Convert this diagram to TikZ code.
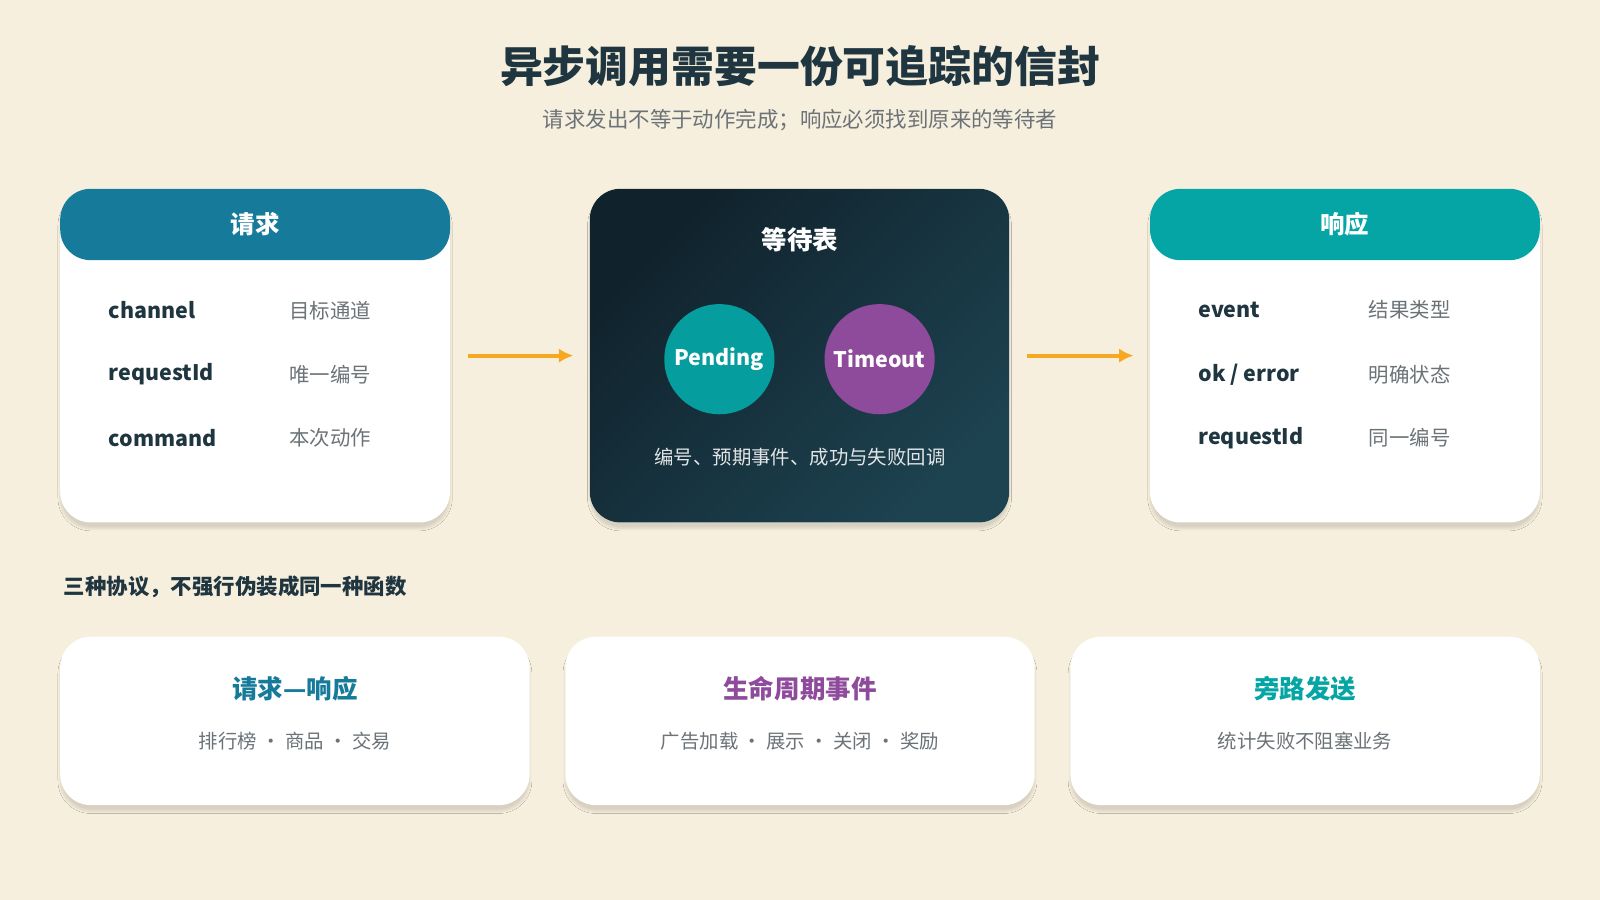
\documentclass[tikz,border=0pt]{standalone}
\usepackage{fontspec}
\setmainfont{Noto Sans CJK SC}
\usetikzlibrary{arrows.meta,shadows.blur}
\definecolor{bg}{HTML}{F7EFDD}
\definecolor{ink}{HTML}{1F3540}
\definecolor{grey}{HTML}{6B7378}
\definecolor{blue}{HTML}{167A9A}
\definecolor{teal}{HTML}{05A5A5}
\definecolor{plum}{HTML}{8E4A9B}
\definecolor{orng}{HTML}{F7A823}
\definecolor{navy}{HTML}{10222C}
\definecolor{navyb}{HTML}{1D4250}
\tikzset{>={Latex[width=14pt,length=14pt]}}
\newcommand\fs[1]{\fontsize{#1}{#1}\selectfont}

\begin{document}
\begin{tikzpicture}[x=1pt,y=-1pt,
  card/.style={draw=none,fill=white,rounded corners=30pt,
    blur shadow={shadow xshift=0pt,shadow yshift=-6pt,shadow blur steps=8,shadow opacity=12}},
  head/.style={fill=#1,rounded corners=30pt,minimum width=382pt,minimum height=70pt,
    text=white,font=\fs{24}\bfseries},
  key/.style={anchor=west,text=ink,font=\fs{21}\bfseries},
  val/.style={anchor=west,text=grey,font=\fs{20}},
  bubble/.style={circle,fill=#1,minimum size=108pt,inner sep=0pt,text=white,font=\fs{21}\bfseries},
  flow/.style={->,orng,line width=4pt},
  ttl/.style={text=#1,font=\fs{25}\bfseries},
  sub/.style={text=grey,font=\fs{19}}]
  \fill[bg] (0,0) rectangle (1568,882);
  \useasboundingbox (0,0) rectangle (1568,882);

  % title
  \node[text=ink,font=\fs{42}\bfseries] (title) at (784,65) {异步调用需要一份可追踪的信封};
  \node[text=grey,font=\fs{21}] (subtitle) at (784,118) {请求发出不等于动作完成；响应必须找到原来的等待者};

  % request card
  \node[card,minimum width=382pt,minimum height=327pt] (req) at (250,348.5) {};
  \node[head=blue] (reqh) at (250,220) {请求};
  \foreach \k/\v/\y in {channel/目标通道/304,requestId/唯一编号/367,command/本次动作/429}
    {\node[key] at (103,\y) {\k}; \node[val] at (280,\y) {\v};}

  % pending table
  \node[card,minimum width=411pt,minimum height=327pt] (wait) at (783.5,348.5) {};
  \shade[rounded corners=30pt,left color=navy,right color=navyb,shading angle=45] (578,185) rectangle (989,512);
  \node[text=white,font=\fs{25}\bfseries] (waith) at (784,235) {等待表};
  \node[bubble=teal!95!black] (pend) at (705,352) {Pending};
  \node[bubble=plum] (tout) at (862,352) {Timeout};
  \node[text=white!88!navy,font=\fs{19}] (waitt) at (784,448) {编号、预期事件、成功与失败回调};

  % response card
  \node[card,minimum width=382pt,minimum height=327pt] (resp) at (1318,348.5) {};
  \node[head=teal] (resph) at (1318,220) {响应};
  \foreach \k/\v/\y in {event/结果类型/304,{ok\ /\ error}/明确状态/367,requestId/同一编号/429}
    {\node[key] at (1171,\y) {\k}; \node[val] at (1338,\y) {\v};}

  \draw[flow] ([xshift=17pt,yshift=0pt]req.east) -- ([xshift=-16pt]wait.west);
  \draw[flow] ([xshift=17pt]wait.east) -- ([xshift=-16pt]resp.west);

  % protocols
  \node[anchor=west,text=ink,font=\fs{21}\bfseries] (sect) at (59,575) {三种协议，不强行伪装成同一种函数};
  \foreach \n/\x/\c/\t/\s in {rr/289/blue/请求—响应/排行榜 · 商品 · 交易,
      life/784/plum/生命周期事件/广告加载 · 展示 · 关闭 · 奖励,
      side/1279/teal/旁路发送/统计失败不阻塞业务}
    {\node[card,minimum width=460pt,minimum height=165pt] (\n) at (\x,706.5) {};
     \node[ttl=\c] (\n t) at (\x,675) {\t};
     \node[sub] (\n s) at (\x,726) {\s};}
\end{tikzpicture}
\end{document}
